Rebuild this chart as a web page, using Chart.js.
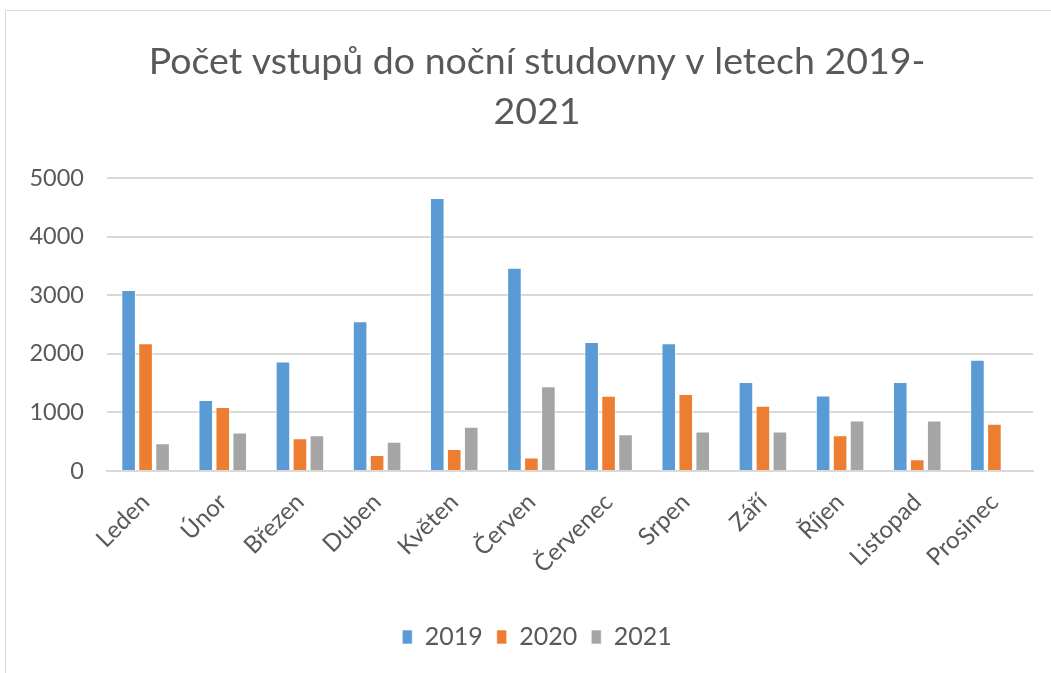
<!DOCTYPE html>
<html>
<head>
<meta charset="utf-8">
<script src="https://cdn.jsdelivr.net/npm/chart.js@4"></script>
<style>
  body { margin: 0; background: #fff; overflow: hidden; }
  #wrap {
    position: absolute; left: 5px; top: 10px; width: 1046px; height: 663px;
    overflow: hidden;
    border-left: 1px solid #d9d9d9; border-top: 1px solid #d9d9d9;
  }
</style>
</head>
<body>
<div id="wrap"><canvas id="chart"></canvas></div>
<script>
const months = ['Leden', 'Únor', 'Březen', 'Duben', 'Květen', 'Červen', 'Červenec', 'Srpen', 'Září', 'Říjen', 'Listopad', 'Prosinec'];
const y2019 = [3090, 1210, 1870, 2555, 4660, 3470, 2200, 2180, 1520, 1290, 1520, 1900];
const y2020 = [2180, 1090, 560, 275, 375, 230, 1285, 1315, 1115, 610, 200, 805];
const y2021 = [475, 655, 610, 500, 755, 1445, 625, 675, 675, 860, 860, 0];
const yTicks = [0, 1000, 2000, 3000, 4000, 5000];

const txt = '#595959';
const ff = 'Lato, "Open Sans", sans-serif';

const ctx = document.getElementById('chart').getContext('2d');
// the original chart runs on past the right edge of the picture
ctx.canvas.width = 1062;
ctx.canvas.height = 662;

const chart = new Chart(ctx, {
  type: 'bar',
  data: {
    labels: months,
    datasets: [
      { label: '2019', data: y2019, backgroundColor: '#5B9BD5' },
      { label: '2020', data: y2020, backgroundColor: '#ED7D31' },
      { label: '2021', data: y2021, backgroundColor: '#A5A5A5' }
    ].map(d => Object.assign(d, {
      borderColor: 'rgba(255,255,255,0.6)', borderWidth: 1,
      categoryPercentage: 0.66, barPercentage: 0.86
    }))
  },
  options: {
    responsive: false,
    animation: false,
    layout: { padding: { top: 0, right: 0, bottom: 13.5, left: 0 } },
    plugins: {
      title: {
        display: true,
        text: ['Počet vstupů do noční studovny v letech 2019-', '2021'],
        color: txt,
        font: { family: ff, size: 37.5, weight: 'normal', lineHeight: 1.333 },
        padding: { top: 26, bottom: 41 }
      },
      legend: {
        position: 'bottom',
        labels: {
          color: txt,
          font: { family: ff, size: 25 },
          boxWidth: 10, boxHeight: 14,
          padding: 14
        }
      },
      tooltip: { enabled: false }
    },
    scales: {
      x: {
        grid: { display: false, drawTicks: false },
        border: { display: true, color: '#d9d9d9', width: 2 },
        ticks: {
          color: txt, font: { family: ff, size: 24 },
          maxRotation: 45, minRotation: 45, padding: 17
        },
        afterFit: s => { s.height = 139.5; }
      },
      y: {
        min: 0, max: 5000,
        afterBuildTicks: s => { s.ticks = yTicks.map(v => ({ value: v })); },
        grid: { color: '#d9d9d9', lineWidth: 2, drawTicks: false },
        border: { display: false },
        ticks: { color: txt, font: { family: ff, size: 23.5 }, padding: 23, callback: v => String(v) },
        afterFit: s => { s.width = 101; }
      },
      yRight: {
        position: 'right',
        min: 0, max: 5000,
        grid: { drawOnChartArea: false, drawTicks: false },
        border: { display: false },
        ticks: { display: false },
        afterFit: s => { s.width = 35; }
      }
    }
  }
});
</script>
</body>
</html>
